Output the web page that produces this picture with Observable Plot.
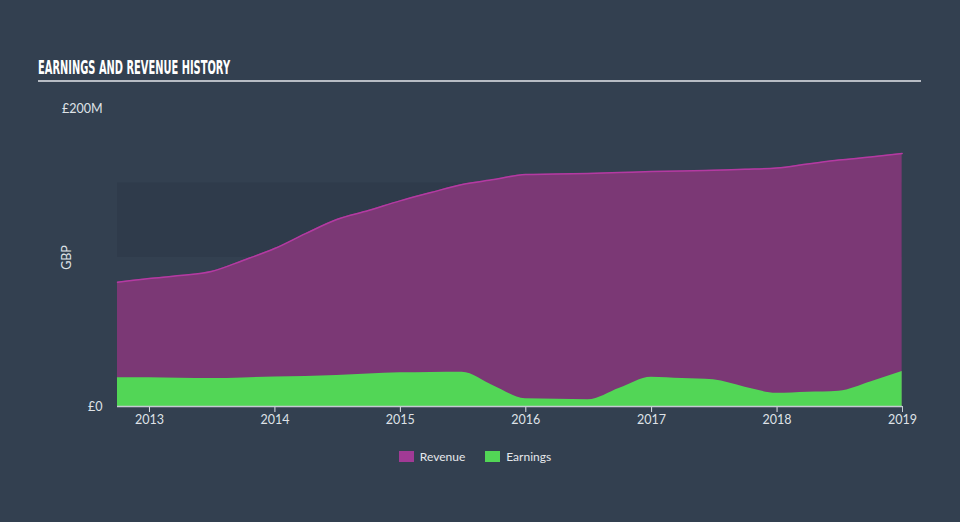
<!DOCTYPE html>
<html>
<head>
<meta charset="utf-8">
<script src="https://cdn.jsdelivr.net/npm/d3@7"></script>
<script src="https://cdn.jsdelivr.net/npm/@observablehq/plot@0.6"></script>
<style>
  html, body { margin: 0; padding: 0; background: #334050; }
  #wrap { position: relative; width: 960px; height: 522px; overflow: hidden; background: #334050; font-family: Lato, "Open Sans", sans-serif; }
  #title { position: absolute; left: 38px; top: 56px; color: #ffffff; font-family: "DejaVu Sans", sans-serif; font-weight: bold; font-size: 19px; line-height: 22px; white-space: nowrap; transform: scaleX(0.52); transform-origin: left top; }
  #rule { position: absolute; left: 38px; top: 80px; width: 883px; height: 2px; background: #b7bcc4; }
  #chart { position: absolute; left: 0; top: 0; }
  #legend { position: absolute; left: 0; top: 449px; width: 950px; display: flex; justify-content: center; gap: 20px; color: #e6e8ec; font-size: 12px; }
  .item { display: flex; align-items: center; gap: 6px; }
  .sw { width: 15px; height: 11px; display: inline-block; }
</style>
</head>
<body>
<div id="wrap">
  <div id="title">EARNINGS AND REVENUE HISTORY</div>
  <div id="rule"></div>
  <div id="chart"></div>
  <div id="legend"></div>
</div>
<script>
// Quarterly period ends
const dates = ["2012-09-30","2012-12-31","2013-03-31","2013-06-30","2013-09-30","2013-12-31",
  "2014-03-31","2014-06-30","2014-09-30","2014-12-31","2015-03-31","2015-06-30","2015-09-30","2015-12-31",
  "2016-03-31","2016-06-30","2016-09-30","2016-12-31","2017-03-31","2017-06-30","2017-09-30","2017-12-31",
  "2018-03-31","2018-06-30","2018-09-30","2018-12-31"];
// GBP millions
const revenue = [83.4, 85.9, 87.9, 90.6, 98, 106, 116, 125.5, 131.5, 138, 143.6, 149, 152.3, 155.7,
  156, 156.4, 157, 157.7, 158, 158.6, 159.2, 160.0, 162.7, 165.4, 167.4, 169.8];
const earnings = [19.3, 19.3, 19.0, 18.8, 19.2, 19.8, 20.2, 20.8, 21.8, 22.6, 22.9, 23.0, 13.8, 5.2,
  4.9, 4.5, 12.2, 19.7, 18.8, 17.9, 13.0, 8.9, 9.6, 10.3, 16.5, 23.5];
const seriesNames = ["Revenue", "Earnings"];
const seriesColors = ["#7b3875", "#52d656"];
const yTicks = [0, 200];
const yTickLabels = ["£0", "£200M"];
const band = [{y1: 100, y2: 150}];

const parse = d3.utcParse("%Y-%m-%d");
const table = dates.map((d, i) => ({date: parse(d), revenue: revenue[i], earnings: earnings[i]}));
const xDomain = [parse("2012-09-30"), parse("2019-01-01")];
const yearTicks = d3.range(2013, 2020).map(y => new Date(Date.UTC(y, 0, 1)));

const chart = Plot.plot({
  width: 960,
  height: 522,
  marginLeft: 117,
  marginRight: 58,
  marginTop: 108,
  marginBottom: 116,
  style: {background: "transparent", color: "#dfe2e7", fontSize: "12.5px", fontFamily: "Lato, 'Open Sans', sans-serif"},
  x: {type: "utc", domain: xDomain, ticks: yearTicks, tickFormat: d3.utcFormat("%Y"), tickSize: 6, tickPadding: 3, label: null},
  y: {domain: [0, 200], ticks: yTicks, tickFormat: (d, i) => yTickLabels[yTicks.indexOf(d)], tickSize: 0, tickPadding: 15, label: "GBP", labelAnchor: "center", labelOffset: 55, labelArrow: "none"},
  marks: [
    Plot.rect(band, {x1: () => xDomain[0], x2: () => xDomain[1], y1: "y1", y2: "y2", fill: "#2a3644", fillOpacity: 0.45}),
    Plot.areaY(table, {x: "date", y: "revenue", fill: seriesColors[0], curve: "monotone-x"}),
    Plot.lineY(table, {x: "date", y: "revenue", stroke: "#b43aa2", strokeWidth: 1.5, curve: "monotone-x"}),
    Plot.areaY(table, {x: "date", y: "earnings", fill: seriesColors[1], curve: "monotone-x"}),
    Plot.ruleY([0], {stroke: "#c5cad2", strokeWidth: 1.5}),
    Plot.ruleX([xDomain[1]], {y1: 0, y2: -4, stroke: "#c5cad2"})
  ]
});
document.getElementById("chart").appendChild(chart);

const legend = document.getElementById("legend");
seriesNames.forEach((n, i) => {
  const it = document.createElement("div");
  it.className = "item";
  it.innerHTML = `<span class="sw" style="background:${i === 0 ? '#a13a95' : seriesColors[1]}"></span><span>${n}</span>`;
  legend.appendChild(it);
});
</script>
</body>
</html>
